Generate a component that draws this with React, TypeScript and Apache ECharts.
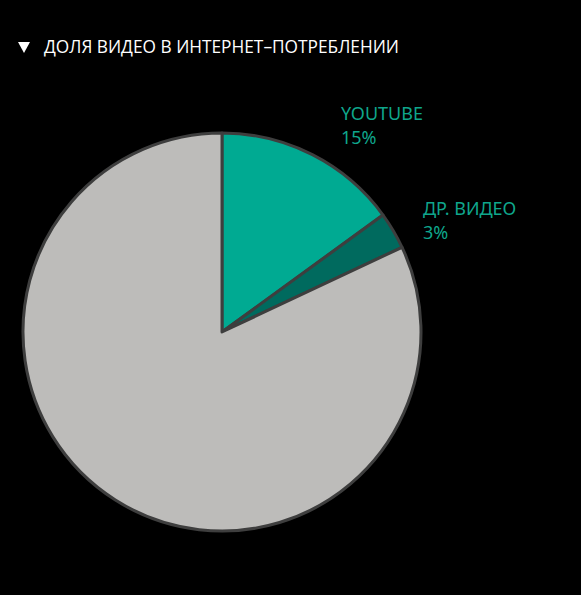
import React, { useEffect, useRef } from "react";
import * as echarts from "echarts";

const titleText = "ДОЛЯ ВИДЕО В ИНТЕРНЕТ–ПОТРЕБЛЕНИИ";
const categories = ["YOUTUBE", "ДР. ВИДЕО", "ПРОЧЕЕ"];
const shares = [15, 3, 82];
const colors = ["#00aa92", "#006a5e", "#bdbcba"];

export default function App() {
  const ref = useRef<HTMLDivElement>(null);
  useEffect(() => {
    document.body.style.margin = "0";
    document.body.style.background = "#000";
    const chart = echarts.init(ref.current!, null, { renderer: "svg" });
    chart.setOption({
      animation: false,
      backgroundColor: "#000000",
      graphic: [
        {
          type: "polygon",
          shape: { points: [[18, 42], [30, 42], [24, 53]] },
          style: { fill: "#ffffff" },
        },
        {
          type: "text",
          left: 44,
          top: 38,
          style: {
            text: titleText,
            fill: "#ffffff",
            font: '17.3px "Open Sans", sans-serif',
          },
        },
        {
          type: "text",
          left: 341,
          top: 101,
          style: {
            text: categories[0] + "\n" + shares[0] + "%",
            fill: "#0fa68c",
            font: '18px "Noto Sans", sans-serif',
            lineHeight: 24,
          },
        },
        {
          type: "text",
          left: 423,
          top: 196,
          style: {
            text: categories[1] + "\n" + shares[1] + "%",
            fill: "#0fa68c",
            font: '18px "Noto Sans", sans-serif',
            lineHeight: 24,
          },
        },
      ],
      series: [
        {
          type: "pie",
          center: [222, 332],
          radius: [0, 199],
          startAngle: 90,
          clockwise: true,
          label: { show: false },
          labelLine: { show: false },
          emphasis: { disabled: true },
          itemStyle: { borderColor: "#3e3e3e", borderWidth: 3 },
          data: categories.map((c, i) => ({
            name: c,
            value: shares[i],
            itemStyle: { color: colors[i] },
          })),
        },
      ],
    });
    return () => chart.dispose();
  }, []);
  return (
    <div
      ref={ref}
      style={{ position: "fixed", left: 0, top: 0, width: 581, height: 595, background: "#000" }}
    />
  );
}
